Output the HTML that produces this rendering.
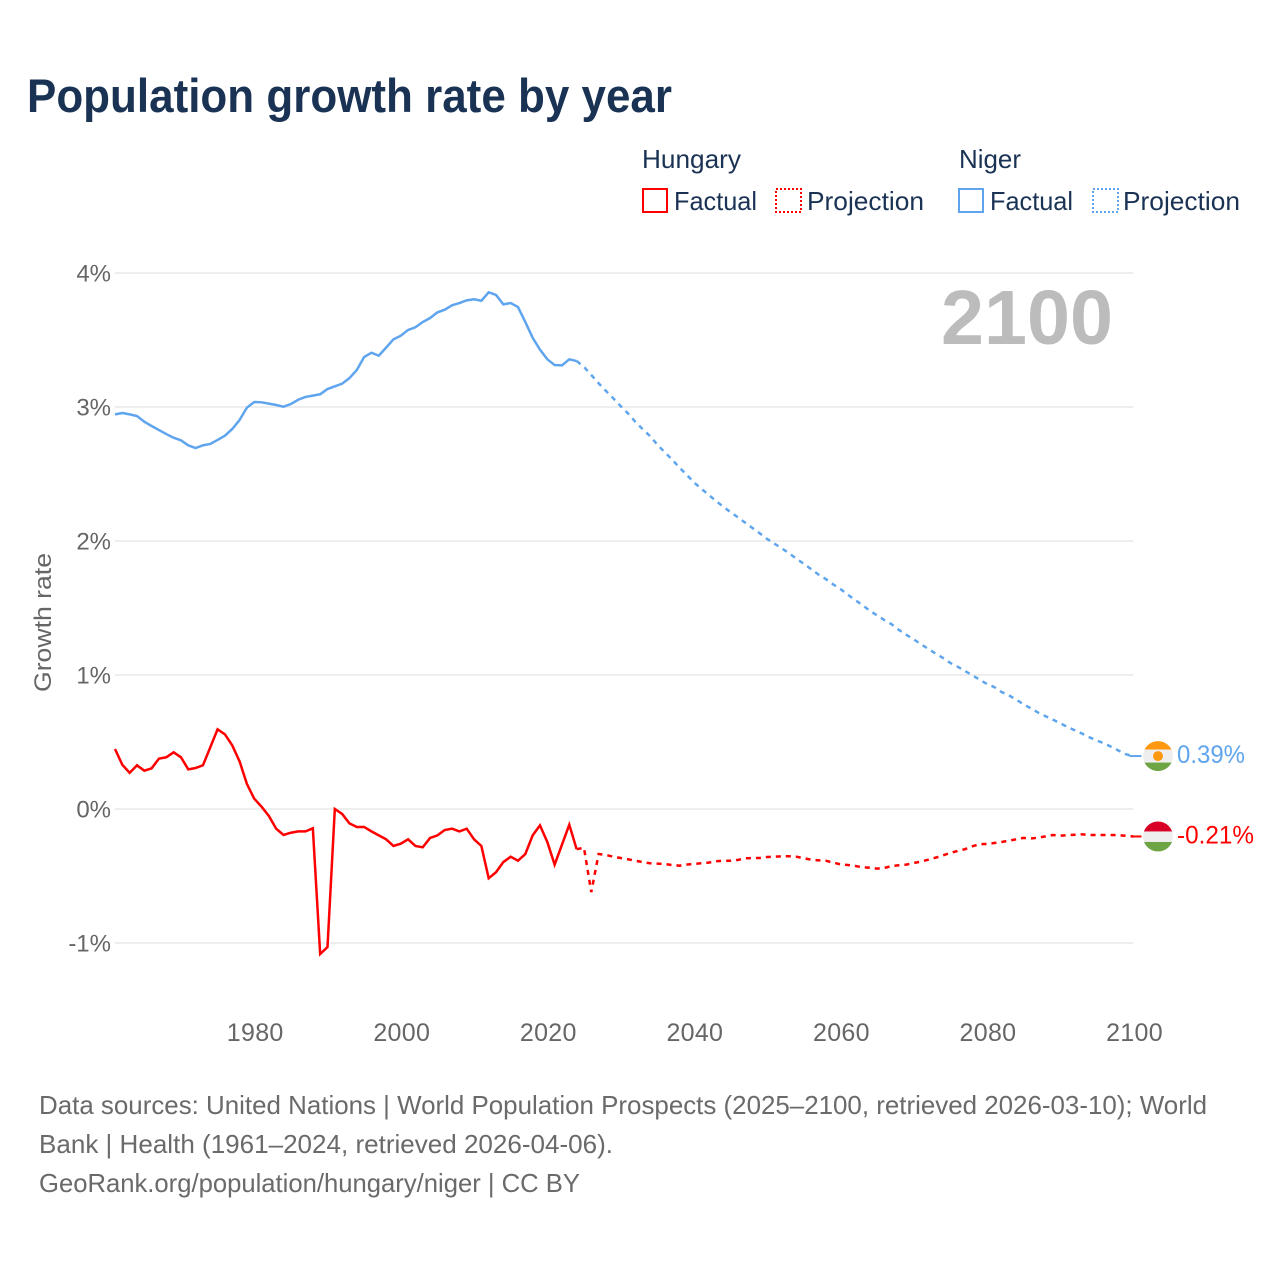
<!DOCTYPE html>
<html lang="en">
<head>
<meta charset="utf-8">
<title>Population growth rate by year</title>
<style>
html,body{margin:0;padding:0;background:#fff;}
svg{display:block;font-family:"Liberation Sans",sans-serif;}
.tick{font-size:25px;fill:#666;letter-spacing:.3px;}
.ytick{font-size:24px;fill:#666;}
.ytitle{font-size:24px;fill:#666;}
.leg{font-size:26px;fill:#1a3354;}
.foot{font-size:26px;fill:#6a6a6a;}
</style>
</head>
<body>
<svg id="chart" xmlns="http://www.w3.org/2000/svg" width="1280" height="1280" viewBox="0 0 1280 1280">
  <rect width="1280" height="1280" fill="#fff"/>
  <text x="27" y="112" font-size="47" font-weight="700" fill="#1a3354" textLength="645" lengthAdjust="spacingAndGlyphs">Population growth rate by year</text>

  <g>
    <text class="leg" x="642" y="168" textLength="99" lengthAdjust="spacingAndGlyphs">Hungary</text>
    <rect x="643" y="189" width="24" height="23" fill="none" stroke="#ff0000" stroke-width="2"/>
    <text class="leg" x="674" y="210" textLength="83" lengthAdjust="spacingAndGlyphs">Factual</text>
    <rect x="776" y="189" width="25" height="23" fill="none" stroke="#ff0000" stroke-width="2" stroke-dasharray="2 2"/>
    <text class="leg" x="807" y="210" textLength="117" lengthAdjust="spacingAndGlyphs">Projection</text>
    <text class="leg" x="959" y="168" textLength="62" lengthAdjust="spacingAndGlyphs">Niger</text>
    <rect x="959" y="189" width="24" height="23" fill="none" stroke="#5fa5ee" stroke-width="2"/>
    <text class="leg" x="990" y="210" textLength="83" lengthAdjust="spacingAndGlyphs">Factual</text>
    <rect x="1093" y="189" width="25" height="23" fill="none" stroke="#5fa5ee" stroke-width="2" stroke-dasharray="2 2"/>
    <text class="leg" x="1123" y="210" textLength="117" lengthAdjust="spacingAndGlyphs">Projection</text>
  </g>

  <text x="941" y="344" font-size="77" font-weight="700" fill="#bcbcbc" textLength="172" lengthAdjust="spacingAndGlyphs">2100</text>
  <text class="ytitle" transform="translate(51,692) rotate(-90)" textLength="139" lengthAdjust="spacingAndGlyphs">Growth rate</text>

  <g id="grid"></g>
  <g id="yticks"></g>
  <g id="xticks"></g>
  <g id="series"></g>
  <g id="ends"></g>

  <g>
    <text class="foot" x="39" y="1114" textLength="1168" lengthAdjust="spacingAndGlyphs">Data sources: United Nations | World Population Prospects (2025–2100, retrieved 2026-03-10); World</text>
    <text class="foot" x="39" y="1153" textLength="574" lengthAdjust="spacingAndGlyphs">Bank | Health (1961–2024, retrieved 2026-04-06).</text>
    <a><text class="foot" x="39" y="1192" textLength="541" lengthAdjust="spacingAndGlyphs">GeoRank.org/population/hungary/niger | CC BY</text></a>
  </g>
</svg>
<script>
const yTickValues = [4, 3, 2, 1, 0, -1];
const yTickLabels = ["4%", "3%", "2%", "1%", "0%", "-1%"];
const xTickValues = [1980, 2000, 2020, 2040, 2060, 2080, 2100];
const xTickLabels = ["1980", "2000", "2020", "2040", "2060", "2080", "2100"];

const factualYears = [1961,1962,1963,1964,1965,1966,1967,1968,1969,1970,1971,1972,1973,1974,1975,1976,1977,1978,1979,1980,1981,1982,1983,1984,1985,1986,1987,1988,1989,1990,1991,1992,1993,1994,1995,1996,1997,1998,1999,2000,2001,2002,2003,2004,2005,2006,2007,2008,2009,2010,2011,2012,2013,2014,2015,2016,2017,2018,2019,2020,2021,2022,2023,2024];
const projectionYears = [2024,2025,2026,2027,2028,2029,2030,2031,2032,2033,2034,2035,2036,2037,2038,2039,2040,2041,2042,2043,2044,2045,2046,2047,2048,2049,2050,2051,2052,2053,2054,2055,2056,2057,2058,2059,2060,2061,2062,2063,2064,2065,2066,2067,2068,2069,2070,2071,2072,2073,2074,2075,2076,2077,2078,2079,2080,2081,2082,2083,2084,2085,2086,2087,2088,2089,2090,2091,2092,2093,2094,2095,2096,2097,2098,2099,2100];

const hungaryFactual = [0.448,0.33,0.27,0.326,0.286,0.304,0.376,0.386,0.423,0.386,0.296,0.306,0.326,0.46,0.595,0.557,0.475,0.356,0.187,0.077,0.017,-0.052,-0.147,-0.194,-0.177,-0.167,-0.167,-0.144,-1.082,-1.03,0,-0.037,-0.107,-0.134,-0.134,-0.167,-0.197,-0.226,-0.276,-0.259,-0.226,-0.276,-0.286,-0.216,-0.197,-0.157,-0.147,-0.167,-0.147,-0.226,-0.276,-0.517,-0.472,-0.396,-0.356,-0.386,-0.336,-0.197,-0.122,-0.246,-0.415,-0.266,-0.117,-0.30];
const hungaryProjection = [-0.30,-0.289,-0.62,-0.336,-0.343,-0.356,-0.366,-0.375,-0.386,-0.396,-0.405,-0.408,-0.41,-0.418,-0.423,-0.415,-0.41,-0.405,-0.40,-0.39,-0.386,-0.386,-0.38,-0.368,-0.366,-0.366,-0.358,-0.356,-0.353,-0.353,-0.356,-0.368,-0.378,-0.383,-0.386,-0.40,-0.413,-0.418,-0.425,-0.435,-0.438,-0.445,-0.44,-0.425,-0.42,-0.415,-0.403,-0.393,-0.378,-0.363,-0.346,-0.328,-0.313,-0.30,-0.278,-0.263,-0.261,-0.254,-0.246,-0.236,-0.226,-0.216,-0.22,-0.214,-0.204,-0.194,-0.199,-0.196,-0.192,-0.189,-0.194,-0.194,-0.194,-0.194,-0.196,-0.20,-0.205];
const nigerFactual = [2.945,2.955,2.945,2.933,2.89,2.858,2.828,2.798,2.771,2.751,2.714,2.694,2.714,2.724,2.754,2.786,2.836,2.903,2.995,3.037,3.035,3.025,3.015,3.002,3.022,3.054,3.075,3.085,3.095,3.134,3.154,3.174,3.216,3.276,3.373,3.405,3.383,3.443,3.505,3.532,3.575,3.595,3.634,3.664,3.706,3.726,3.759,3.776,3.796,3.804,3.793,3.856,3.836,3.766,3.776,3.746,3.634,3.517,3.428,3.356,3.313,3.311,3.356,3.343];
const nigerProjection = [3.343,3.30,3.239,3.177,3.12,3.065,3.007,2.953,2.89,2.836,2.784,2.72,2.664,2.61,2.55,2.495,2.438,2.39,2.346,2.30,2.256,2.216,2.177,2.137,2.097,2.057,2.015,1.98,1.945,1.908,1.868,1.83,1.79,1.75,1.716,1.677,1.642,1.60,1.56,1.522,1.48,1.445,1.41,1.378,1.336,1.30,1.266,1.23,1.194,1.16,1.127,1.09,1.062,1.03,0.998,0.965,0.933,0.91,0.873,0.848,0.816,0.781,0.751,0.719,0.692,0.667,0.64,0.612,0.587,0.562,0.535,0.51,0.49,0.463,0.435,0.408,0.395];
const endLabels = ["0.39%", "-0.21%"];

const NS = "http://www.w3.org/2000/svg";
const RED = "#ff0000";
const BLUE = "#5fa5ee";
const xScale = function (year) { return 115 + (year - 1961) * (1133.5 - 115) / 139; };
const yScale = function (v) { return 809 - v * 134; };
const PLOT_LEFT = xScale(1961);
const PLOT_RIGHT = xScale(2100);

function make(tag, parent) {
  const el = document.createElementNS(NS, tag);
  parent.appendChild(el);
  return el;
}
function pathFrom(xs, ys) {
  return xs.map(function (x, i) {
    return (i ? "L" : "M") + xScale(x).toFixed(2) + " " + yScale(ys[i]).toFixed(2);
  }).join(" ");
}

const gridG = document.getElementById("grid");
const yTickG = document.getElementById("yticks");
yTickValues.forEach(function (v, i) {
  const line = make("line", gridG);
  
  
  line.setAttribute("x1", PLOT_LEFT);
  line.setAttribute("x2", PLOT_RIGHT);
  line.setAttribute("y1", yScale(v));
  line.setAttribute("y2", yScale(v));
  line.setAttribute("stroke", "#e9e9e9");
  line.setAttribute("stroke-width", "1.5");
  const t = make("text", yTickG);
  
  
  t.setAttribute("class", "ytick");
  t.setAttribute("x", 111);
  t.setAttribute("y", yScale(v) + 8.5);
  t.setAttribute("text-anchor", "end");
  t.textContent = yTickLabels[i];
});

const xTickG = document.getElementById("xticks");
xTickValues.forEach(function (v, i) {
  const t = make("text", xTickG);
  
  
  t.setAttribute("class", "tick");
  t.setAttribute("x", xScale(v) + 1);
  t.setAttribute("y", 1041);
  t.setAttribute("text-anchor", "middle");
  t.textContent = xTickLabels[i];
});

const seriesG = document.getElementById("series");

const nigerFactualLine = make("path", seriesG);


nigerFactualLine.setAttribute("d", pathFrom(factualYears, nigerFactual));
nigerFactualLine.setAttribute("fill", "none");
nigerFactualLine.setAttribute("stroke", BLUE);
nigerFactualLine.setAttribute("stroke-width", "2.5");

const nigerProjectionLine = make("path", seriesG);


nigerProjectionLine.setAttribute("d", pathFrom(projectionYears, nigerProjection));
nigerProjectionLine.setAttribute("fill", "none");
nigerProjectionLine.setAttribute("stroke", BLUE);
nigerProjectionLine.setAttribute("stroke-width", "2.5");
nigerProjectionLine.setAttribute("stroke-dasharray", "5 5");

const hungaryFactualLine = make("path", seriesG);


hungaryFactualLine.setAttribute("d", pathFrom(factualYears, hungaryFactual));
hungaryFactualLine.setAttribute("fill", "none");
hungaryFactualLine.setAttribute("stroke", RED);
hungaryFactualLine.setAttribute("stroke-width", "2.5");

const hungaryProjectionLine = make("path", seriesG);


hungaryProjectionLine.setAttribute("d", pathFrom(projectionYears, hungaryProjection));
hungaryProjectionLine.setAttribute("fill", "none");
hungaryProjectionLine.setAttribute("stroke", RED);
hungaryProjectionLine.setAttribute("stroke-width", "2.5");
hungaryProjectionLine.setAttribute("stroke-dasharray", "5 5");

/* end markers: leader, circular flag, value label */
const endsG = document.getElementById("ends");
let clipCount = 0;
function drawFlag(group, cy, top, mid, bottom, emblem, topH, midH) {
  const R = 15;
  const cx = 1158;
  const defs = make("defs", group);
  const clip = make("clipPath", defs);
  clip.setAttribute("id", "flag-clip-" + (++clipCount));
  const cc = make("circle", clip);
  cc.setAttribute("cx", cx);
  cc.setAttribute("cy", cy);
  cc.setAttribute("r", R);
  const bands = [[top, 0, topH], [mid, topH, midH], [bottom, topH + midH, 2 * R - topH - midH]];
  bands.forEach(function (b) {
    const band = make("rect", group);
    band.setAttribute("x", cx - R);
    band.setAttribute("y", cy - R + b[1]);
    band.setAttribute("width", 2 * R);
    band.setAttribute("height", b[2]);
    band.setAttribute("fill", b[0]);
    band.setAttribute("clip-path", "url(#flag-clip-" + clipCount + ")");
  });
  if (emblem) {
    const dot = make("circle", group);
    dot.setAttribute("cx", cx);
    dot.setAttribute("cy", cy);
    dot.setAttribute("r", 5);
    dot.setAttribute("fill", emblem);
  }
}

const nigerEnd = nigerProjection[nigerProjection.length - 1];
const hungaryEnd = hungaryProjection[hungaryProjection.length - 1];

const nigerLeader = make("line", endsG);


nigerLeader.setAttribute("x1", PLOT_RIGHT - 4);
nigerLeader.setAttribute("x2", PLOT_RIGHT + 8);
nigerLeader.setAttribute("y1", yScale(nigerEnd));
nigerLeader.setAttribute("y2", yScale(nigerEnd));
nigerLeader.setAttribute("stroke", BLUE);
nigerLeader.setAttribute("stroke-width", "2");

const nigerFlag = make("g", endsG);


drawFlag(nigerFlag, yScale(nigerEnd), "#ff9811", "#eeeeee", "#6da544", "#ff9811", 8.5, 13);

const nigerValue = make("text", endsG);


nigerValue.setAttribute("x", 1177);
nigerValue.setAttribute("y", yScale(nigerEnd) + 7);
nigerValue.setAttribute("font-size", "25");
nigerValue.setAttribute("fill", BLUE);
nigerValue.setAttribute("textLength", "68");
nigerValue.setAttribute("lengthAdjust", "spacingAndGlyphs");
nigerValue.textContent = endLabels[0];

const hungaryLeader = make("line", endsG);


hungaryLeader.setAttribute("x1", PLOT_RIGHT);
hungaryLeader.setAttribute("x2", PLOT_RIGHT + 8);
hungaryLeader.setAttribute("y1", yScale(hungaryEnd));
hungaryLeader.setAttribute("y2", yScale(hungaryEnd));
hungaryLeader.setAttribute("stroke", RED);
hungaryLeader.setAttribute("stroke-width", "2");

const hungaryFlag = make("g", endsG);


drawFlag(hungaryFlag, yScale(hungaryEnd), "#d80027", "#eeeeee", "#6da544", null, 10, 10.5);

const hungaryValue = make("text", endsG);


hungaryValue.setAttribute("x", 1177);
hungaryValue.setAttribute("y", yScale(hungaryEnd) + 7);
hungaryValue.setAttribute("font-size", "25");
hungaryValue.setAttribute("fill", RED);
hungaryValue.setAttribute("textLength", "77");
hungaryValue.setAttribute("lengthAdjust", "spacingAndGlyphs");
hungaryValue.textContent = endLabels[1];
</script>
</body>
</html>
